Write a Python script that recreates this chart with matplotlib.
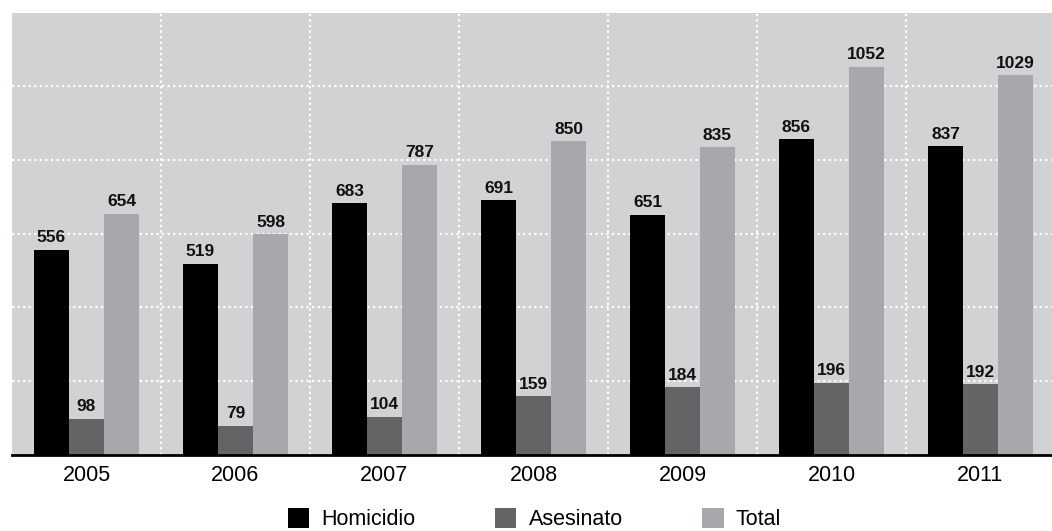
import numpy as np
import matplotlib.pyplot as plt
from matplotlib.patches import Patch

plt.rcParams['font.family'] = ['Liberation Sans', 'DejaVu Sans']

years = ['2005', '2006', '2007', '2008', '2009', '2010', '2011']
homicidio = [556, 519, 683, 691, 651, 856, 837]
asesinato = [98, 79, 104, 159, 184, 196, 192]
total = [654, 598, 787, 850, 835, 1052, 1029]

series = [
    ('Homicidio', homicidio, '#000000'),
    ('Asesinato', asesinato, '#636466'),
    ('Total', total, '#a7a8ab'),
]

fig = plt.figure(figsize=(10.52, 5.31), dpi=100)
ax = fig.add_axes([0.0114, 0.1431, 0.9886, 0.8324])
ax.set_facecolor('#d1d2d4')

x = np.arange(len(years))
w = 0.235

# grid: white dotted lines between groups and every 200 units
for gx in np.arange(0.5, len(years) - 1, 1.0):
    ax.axvline(gx, color='white', lw=1.6, linestyle=(0, (1, 1.5)), zorder=1)
for gy in range(200, 1200, 200):
    ax.axhline(gy, color='white', lw=1.6, linestyle=(0, (1, 1.5)), zorder=1)

handles = []
for i, (name, vals, col) in enumerate(series):
    pos = x + (i - 1) * w
    ax.bar(pos, vals, width=w, color=col, zorder=2)
    for px, v in zip(pos, vals):
        ax.text(px, v + 12, str(v), ha='center', va='bottom',
                fontsize=12.5, fontweight='bold', color='#111111', zorder=3)
    handles.append(Patch(facecolor=col, edgecolor='none', label=name))

ax.set_xlim(-0.5, 6.48)
ax.set_ylim(0, 1198)
ax.set_xticks(x)
ax.set_xticklabels(years, fontsize=15.5)
ax.tick_params(axis='x', length=0, pad=7)
ax.set_yticks([])
for s in ['top', 'right', 'left']:
    ax.spines[s].set_visible(False)
ax.spines['bottom'].set_linewidth(2)
ax.spines['bottom'].set_color('#000000')
ax.spines['bottom'].set_zorder(4)

fig.legend(handles=handles, loc='center', bbox_to_anchor=(0.508, 0.022),
           ncol=3, frameon=False, fontsize=15.5, handlelength=1.0,
           handleheight=1.0, handletextpad=0.56, columnspacing=3.7,
           borderpad=0)

fig.savefig('out.png', dpi=100)
